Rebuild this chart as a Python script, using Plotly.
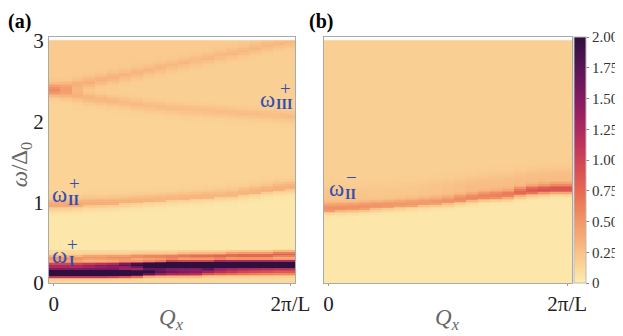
import numpy as np
import plotly.graph_objects as go

W_PX, H_PX = 623, 336
OFF = 8  # page offset of the drawing in the photographed window

# Momentum nodes (fraction of 2π/L)
Q = [0.00, 0.05, 0.10, 0.15, 0.20, 0.25, 0.30, 0.35, 0.40, 0.45, 0.50,
     0.55, 0.60, 0.65, 0.70, 0.75, 0.80, 0.85, 0.90, 0.95, 1.00]
# Energy grid ω/Δ0
OMEGA = np.arange(0.0, 3.0001, 0.02)

x_tickvals = [0, 1]
x_ticktext = ["0", "2π/L"]
y_tickvals = [0, 1, 2, 3]
y_ticktext = ["0", "1", "2", "3"]
cb_tickvals = [0, 0.25, 0.5, 0.75, 1.0, 1.25, 1.5, 1.75, 2.0]
cb_ticktext = ["0", "0.25", "0.50", "0.75", "1.00", "1.25", "1.50", "1.75", "2.00"]

# ---------------- panel (a) read-off band data ----------------
a_L_center = [0.13, 0.13, 0.13, 0.13, 0.13, 0.13, 0.13, 0.13, 0.14, 0.14, 0.14,
              0.14, 0.14, 0.15, 0.15, 0.15, 0.15, 0.15, 0.15, 0.15, 0.15]
a_L_amp = [4.0, 4.0, 4.0, 4.0, 4.0, 3.8, 3.3, 2.6, 2.0, 1.6, 1.45,
           1.4, 1.35, 1.25, 1.1, 1.0, 0.9, 0.85, 0.8, 0.75, 0.75]
a_U_center = [0.22, 0.22, 0.22, 0.22, 0.22, 0.22, 0.225, 0.225, 0.225, 0.225, 0.23,
              0.23, 0.23, 0.23, 0.235, 0.235, 0.235, 0.235, 0.235, 0.235, 0.235]
a_U_amp = [1.1, 1.1, 1.1, 1.2, 1.3, 1.4, 1.6, 2.0, 2.6, 3.2, 4.0,
           4.0, 4.0, 4.0, 4.0, 4.0, 4.0, 4.0, 4.0, 4.0, 4.0]
a_S_center = [0.31, 0.31, 0.31, 0.32, 0.32, 0.32, 0.32, 0.33, 0.33, 0.33, 0.33,
              0.34, 0.34, 0.34, 0.34, 0.35, 0.35, 0.35, 0.35, 0.36, 0.36]
a_S_amp = [0.4, 0.4, 0.4, 0.4, 0.4, 0.45, 0.45, 0.45, 0.5, 0.5, 0.55,
           0.55, 0.6, 0.6, 0.65, 0.65, 0.7, 0.7, 0.7, 0.7, 0.7]
a_II_center = [0.97, 0.975, 0.98, 0.99, 0.995, 1.0, 1.01, 1.02, 1.03, 1.04, 1.05,
               1.06, 1.07, 1.08, 1.09, 1.10, 1.12, 1.14, 1.16, 1.18, 1.19]
a_II_amp = [0.24, 0.24, 0.23, 0.22, 0.21, 0.2, 0.19, 0.18, 0.17, 0.16, 0.16,
            0.16, 0.16, 0.16, 0.16, 0.16, 0.17, 0.18, 0.19, 0.2, 0.2]
a_IIIup_center = [2.40, 2.42, 2.45, 2.48, 2.51, 2.54, 2.57, 2.60, 2.63, 2.66, 2.69,
                  2.72, 2.75, 2.78, 2.81, 2.84, 2.87, 2.90, 2.93, 2.96, 2.98]
a_IIIlo_center = [2.38, 2.35, 2.32, 2.29, 2.27, 2.25, 2.23, 2.21, 2.19, 2.18, 2.16,
                  2.15, 2.14, 2.13, 2.12, 2.11, 2.10, 2.09, 2.08, 2.07, 2.06]
a_III_amp = [0.2, 0.18, 0.16, 0.15, 0.14, 0.13, 0.12, 0.12, 0.11, 0.11, 0.1,
             0.1, 0.1, 0.1, 0.1, 0.1, 0.1, 0.1, 0.1, 0.1, 0.1]
a_bg = {"bottom": 0.12, "gap": 0.04, "mid": 0.15, "between": 0.17, "top": 0.2}

# ---------------- panel (b) read-off band data ----------------
b_II_center = [0.93, 0.935, 0.94, 0.95, 0.96, 0.97, 0.98, 0.99, 1.0, 1.01, 1.02,
               1.04, 1.06, 1.08, 1.09, 1.10, 1.13, 1.15, 1.16, 1.17, 1.17]
b_II_amp = [0.36, 0.36, 0.35, 0.34, 0.33, 0.32, 0.31, 0.31, 0.31, 0.32, 0.34,
            0.38, 0.4, 0.42, 0.44, 0.48, 0.58, 0.66, 0.7, 0.7, 0.7]
b_haze_amp = [0.06, 0.06, 0.06, 0.06, 0.05, 0.05, 0.05, 0.05, 0.06, 0.07, 0.08,
              0.09, 0.1, 0.1, 0.1, 0.1, 0.1, 0.1, 0.1, 0.1, 0.1]
b_bg = {"gap": 0.04, "above": 0.17}


def gauss(c, amp, w):
    return amp * np.exp(-((OMEGA - c) / w) ** 2)


def build_a():
    z = np.zeros((len(OMEGA), len(Q)))
    for i in range(len(Q)):
        bg = np.where(OMEGA < 0.42, a_bg["bottom"],
             np.where(OMEGA < a_II_center[i] - 0.02, a_bg["gap"],
             np.where(OMEGA < a_IIIlo_center[i], a_bg["mid"],
             np.where(OMEGA < a_IIIup_center[i], a_bg["between"], a_bg["top"]))))
        col = bg.astype(float)
        col += gauss(a_L_center[i], a_L_amp[i], 0.042)
        col += gauss(a_U_center[i], a_U_amp[i], 0.04)
        col += gauss(a_S_center[i], a_S_amp[i], 0.035)
        col += gauss(a_II_center[i], a_II_amp[i], 0.07)
        col += gauss(a_IIIup_center[i], a_III_amp[i], 0.07)
        col += gauss(a_IIIlo_center[i], a_III_amp[i], 0.07)
        z[:, i] = col
    return z


def build_b():
    z = np.zeros((len(OMEGA), len(Q)))
    for i in range(len(Q)):
        bg = np.where(OMEGA < b_II_center[i] - 0.03, b_bg["gap"], b_bg["above"])
        col = bg.astype(float)
        col += gauss(b_II_center[i], b_II_amp[i], 0.06)
        col += gauss(b_II_center[i] + 0.15, b_haze_amp[i], 0.12)
        z[:, i] = col
    return z


# plot-area in reference pixels
PL, PR, PT, PB = 49, 578, 37, 283
MARGIN = dict(l=PL - OFF, r=W_PX - (PR - OFF), t=PT - OFF, b=H_PX - (PB - OFF))


def px_x(p):
    return (p - PL) / (PR - PL)


def px_y(p):
    return (PB - p) / (PB - PT)


SERIF = "Liberation Serif"
BLUE = "#2f4fb5"

fig = go.Figure()
fig.add_trace(go.Heatmap(x=Q, y=OMEGA, z=build_a(), coloraxis="coloraxis",
                         xaxis="x", yaxis="y"))
fig.add_trace(go.Heatmap(x=Q, y=OMEGA, z=build_b(), coloraxis="coloraxis",
                         xaxis="x2", yaxis="y2"))

axis_common = dict(showgrid=False, zeroline=False, showline=True, mirror=True,
                   linecolor="#aaaaaa", linewidth=1, automargin=False,
                   tickfont=dict(family=SERIF, size=21, color="#222"))
fig.update_layout(
    width=W_PX, height=H_PX, margin=MARGIN,
    paper_bgcolor="white", plot_bgcolor="white",
    xaxis=dict(domain=[0, px_x(298)], range=[-0.02, 1.02],
               tickvals=x_tickvals, ticktext=x_ticktext, ticks="outside",
               ticklen=2, tickcolor="#999", **axis_common),
    yaxis=dict(domain=[0, 1], range=[0, 3.05],
               tickvals=y_tickvals, ticktext=y_ticktext, ticks="",
               **axis_common),
    xaxis2=dict(domain=[px_x(327), 1], range=[-0.02, 1.02],
                tickvals=x_tickvals, ticktext=x_ticktext, ticks="outside",
                ticklen=2, tickcolor="#999",
                anchor="y2", **axis_common),
    yaxis2=dict(domain=[0, 1], range=[0, 3.05], showticklabels=False,
                anchor="x2", **axis_common),
    coloraxis=dict(
        colorscale="matter", cmin=0, cmax=2,
        colorbar=dict(x=px_x(580), xanchor="left", y=0, yanchor="bottom",
                      len=1, lenmode="fraction",
                      thickness=12, thicknessmode="pixels",
                      outlinewidth=1, outlinecolor="#bbbbbb",
                      tickvals=cb_tickvals, ticktext=cb_ticktext,
                      ticks="outside", ticklen=3, tickcolor="#888",
                      tickfont=dict(family=SERIF, size=15, color="#333"),
                      xpad=0, ypad=0),
    ),
)

annos = []
# panel labels anchored at the very top of the drawing
annos.append(dict(text="<b>(a)</b>", x=px_x(19), y=px_y(OFF), yanchor="top",
                  font=dict(family=SERIF, size=20, color="black")))
annos.append(dict(text="<b>(b)</b>", x=px_x(324), y=px_y(OFF), yanchor="top",
                  font=dict(family=SERIF, size=20, color="black")))
# axis titles
annos.append(dict(text="<i>Q</i><sub><i>x</i></sub>", x=px_x(173), y=px_y(319),
                  yanchor="middle", font=dict(family=SERIF, size=23, color="#666")))
annos.append(dict(text="<i>Q</i><sub><i>x</i></sub>", x=px_x(452), y=px_y(319),
                  yanchor="middle", font=dict(family=SERIF, size=23, color="#666")))
annos.append(dict(text="<i>ω</i>/Δ<sub>0</sub>", x=px_x(21), y=px_y(165),
                  yanchor="middle", textangle=-90,
                  font=dict(family=SERIF, size=23, color="#666")))
for a in annos:
    a.update(xref="paper", yref="paper", showarrow=False, xanchor="center")


def omega_label(xp, yp, sub, sup, subdx):
    out = [
        dict(text="ω", x=px_x(xp), y=px_y(yp), font=dict(size=23)),
        dict(text=sub, x=px_x(xp + subdx), y=px_y(yp + 6), font=dict(size=14)),
        dict(text=sup, x=px_x(xp + subdx + 1), y=px_y(yp - 11), font=dict(size=19)),
    ]
    for o in out:
        o.update(xref="paper", yref="paper", showarrow=False,
                 xanchor="center", yanchor="middle")
        o["font"].update(family=SERIF, color=BLUE)
    return out


annos += omega_label(60, 255, "<b>I</b>", "+", 12)
annos += omega_label(60, 194, "<b>II</b>", "+", 14)
annos += omega_label(270, 99, "<b>III</b>", "+", 17)
annos += omega_label(340, 188, "<b>II</b>", "−", 14)
fig.update_layout(annotations=annos)

fig.write_html("out.html")
